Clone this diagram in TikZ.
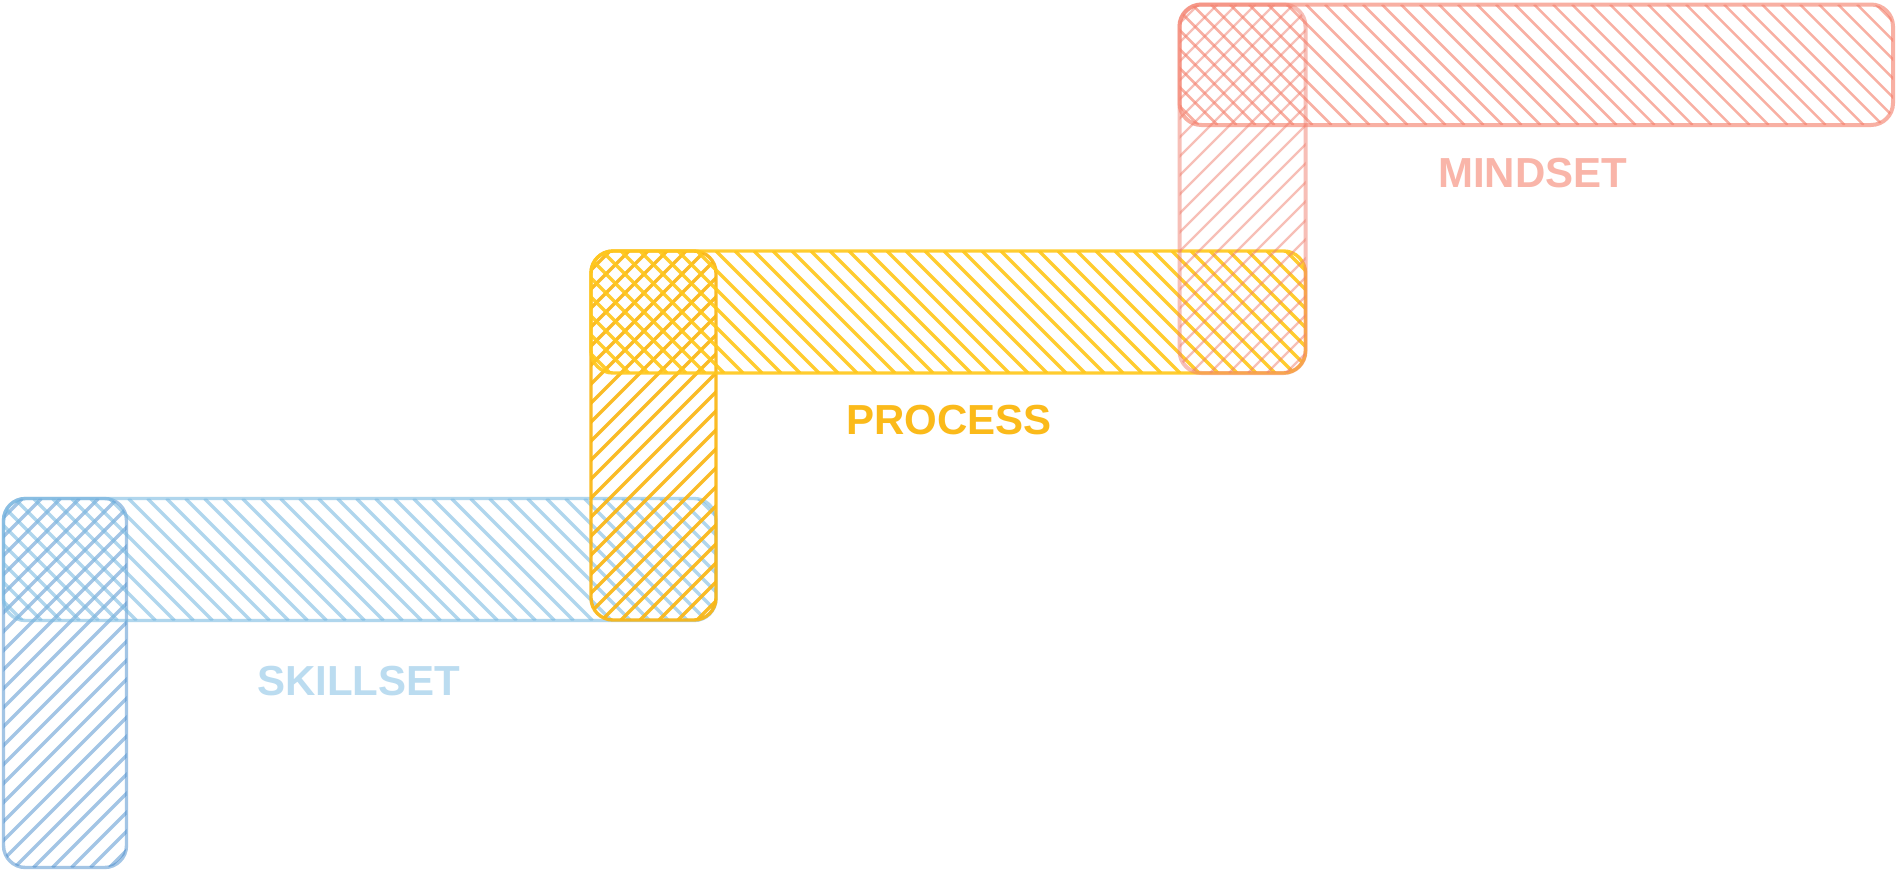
\documentclass[tikz,border=0pt]{standalone}
\usepackage{fontspec}
\newfontfamily\labelfont{Liberation Sans}
\definecolor{bluV}{RGB}{72,140,205}
\definecolor{bluH}{RGB}{120,185,225}
\definecolor{yelH}{RGB}{255,200,30}
\definecolor{yelV}{RGB}{250,182,20}
\definecolor{redH}{RGB}{245,128,108}
\definecolor{redV}{RGB}{240,128,112}
\definecolor{txtB}{RGB}{187,220,240}
\definecolor{txtY}{RGB}{251,186,26}
\definecolor{txtR}{RGB}{249,181,169}
\newcommand{\myhatchdown}[5]{%
  \begin{scope}
    \clip[rounded corners=22pt] (#1,#2) rectangle (#3,#4);
    \pgfmathsetmacro{\myH}{#4-#2}
    \pgfmathtruncatemacro{\myN}{(#3-#1+\myH)/19+1}
    \foreach \i in {0,...,\myN} \draw[#5] ({#1-\myH+19*\i},#2) -- ++(\myH,\myH);
  \end{scope}
  \draw[#5,rounded corners=22pt] (#1,#2) rectangle (#3,#4);
}
\newcommand{\myhatchup}[5]{%
  \begin{scope}
    \clip[rounded corners=22pt] (#1,#2) rectangle (#3,#4);
    \pgfmathsetmacro{\myH}{#4-#2}
    \pgfmathtruncatemacro{\myN}{(#3-#1+\myH)/19+1}
    \foreach \i in {0,...,\myN} \draw[#5] ({#1+19*\i},#2) -- ++(-\myH,\myH);
  \end{scope}
  \draw[#5,rounded corners=22pt] (#1,#2) rectangle (#3,#4);
}
\tikzset{
  bvline/.style={draw=bluV, draw opacity=0.5, line width=3.4pt},
  bhline/.style={draw=bluH, draw opacity=0.58, line width=3.4pt},
  yvline/.style={draw=yelV, draw opacity=0.92, line width=3.4pt},
  yhline/.style={draw=yelH, draw opacity=0.92, line width=3.4pt},
  rvline/.style={draw=redV, draw opacity=0.5, line width=2.3pt},
  rhline/.style={draw=redH, draw opacity=0.62, line width=2.5pt},
  rvbord/.style={draw=redV, draw opacity=0.5, line width=4pt},
  rhbord/.style={draw=redH, draw opacity=0.62, line width=4pt},
  steplabel/.style={anchor=base west, inner sep=0pt, font=\labelfont\bfseries\fontsize{42}{50}\selectfont}
}
\begin{document}
\begin{tikzpicture}[x=1pt,y=-1pt]
\fill[white] (0,0) rectangle (1897,871);
\useasboundingbox (0,0) rectangle (1897,871);
% blue
\myhatchup{3.5}{498.5}{126.5}{867.5}{bvline}
\myhatchdown{3.5}{498.5}{716}{620.5}{bhline}
% yellow
\myhatchup{591}{251}{716}{620}{yvline}
\myhatchdown{591}{251}{1305.5}{373}{yhline}
% red
\begin{scope}
  \clip[rounded corners=22pt] (1179.5,4.5) rectangle (1305.5,373);
  \foreach \i in {0,...,26} \draw[rvline] ({1179.5+19*\i},4.5) -- ++(-368.5,368.5);
\end{scope}
\draw[rvbord,rounded corners=22pt] (1179.5,4.5) rectangle (1305.5,373);
\begin{scope}
  \clip[rounded corners=22pt] (1179.5,4.5) rectangle (1893,125);
  \foreach \i in {0,...,45} \draw[rhline] ({1179.5-120.5+19*\i},4.5) -- ++(120.5,120.5);
\end{scope}
\draw[rhbord,rounded corners=22pt] (1179.5,4.5) rectangle (1893,125);
% labels
\node[steplabel, text=txtB] (skillset) at (257,695) {SKILLSET};
\node[steplabel, text=txtY] (process) at (846,434) {PROCESS};
\node[steplabel, text=txtR] (mindset) at (1438,187) {MINDSET};
\end{tikzpicture}
\end{document}
